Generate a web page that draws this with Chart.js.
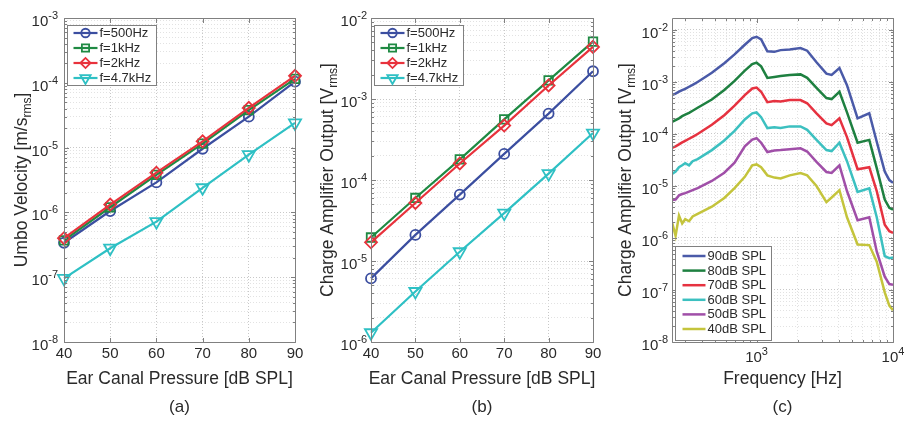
<!DOCTYPE html>
<html>
<head>
<meta charset="utf-8">
<script src="https://cdn.jsdelivr.net/npm/chart.js"></script>
<style>
  html, body { margin: 0; padding: 0; background: #fff; }
  #wrap { position: relative; width: 908px; height: 426px; overflow: hidden; }
  .panel { position: absolute; top: 0; height: 426px; }
</style>
</head>
<body>
<div id="wrap">
  <div class="panel" style="left:0;width:305px"><canvas id="chart_a"></canvas></div>
  <div class="panel" style="left:305px;width:300px"><canvas id="chart_b"></canvas></div>
  <div class="panel" style="left:605px;width:303px"><canvas id="chart_c"></canvas></div>
</div>
<script>
// ---- (a) / (b): level sweep at four tones ----
var spl = [40, 50, 60, 70, 80, 90];
var toneLabels = ['f=500Hz', 'f=1kHz', 'f=2kHz', 'f=4.7kHz'];

var umbo_500 = [3.4e-7, 1.05e-6, 2.9e-6, 9.6e-6, 3.0e-5, 1.04e-4];
var umbo_1k = [3.7e-7, 1.2e-6, 3.8e-6, 1.15e-5, 3.8e-5, 1.15e-4];
var umbo_2k = [4.0e-7, 1.32e-6, 4.1e-6, 1.25e-5, 4.1e-5, 1.28e-4];
var umbo_4k7 = [9.6e-8, 2.8e-7, 7.2e-7, 2.4e-6, 7.8e-6, 2.4e-5];

var amp_500 = [6.1e-6, 2.1e-5, 6.6e-5, 2.1e-4, 6.6e-4, 2.2e-3];
var amp_1k = [1.95e-5, 6.0e-5, 1.8e-4, 5.6e-4, 1.7e-3, 5.1e-3];
var amp_2k = [1.7e-5, 5.2e-5, 1.6e-4, 4.7e-4, 1.47e-3, 4.4e-3];
var amp_4k7 = [1.3e-6, 4.2e-6, 1.3e-5, 3.9e-5, 1.2e-4, 3.8e-4];

// ---- (c): frequency response at six levels ----
var freqHz = [240, 255, 270, 285, 300, 320, 340, 370, 470, 580, 690, 820, 930, 1000, 1080, 1200,
  1350, 1500, 1750, 2100, 2350, 2750, 3250, 3550, 4050, 4600, 5500, 6700, 7600, 8700, 9400, 10000];
var levelLabels = ['90dB SPL', '80dB SPL', '70dB SPL', '60dB SPL', '50dB SPL', '40dB SPL'];

var out_90 = [5.6e-4, 6.0e-4, 6.5e-4, 7.0e-4, 7.4e-4, 8.1e-4, 8.8e-4, 1.0e-3, 1.5e-3, 2.3e-3, 3.4e-3, 5.2e-3, 7.0e-3, 7.4e-3, 6.6e-3, 3.9e-3,
  3.8e-3, 4.1e-3, 4.2e-3, 4.5e-3, 4.0e-3, 2.4e-3, 1.45e-3, 1.37e-3, 1.86e-3, 8.7e-4, 2.0e-4, 2.5e-4, 7.1e-5, 1.9e-5, 1.3e-5, 1.15e-5];
var out_80 = [1.7e-4, 1.85e-4, 2.0e-4, 2.2e-4, 2.35e-4, 2.55e-4, 2.8e-4, 3.2e-4, 4.6e-4, 7.0e-4, 1.05e-3, 1.65e-3, 2.2e-3, 2.35e-3, 2.0e-3, 1.2e-3,
  1.25e-3, 1.3e-3, 1.36e-3, 1.4e-3, 1.2e-3, 7.7e-4, 4.9e-4, 4.7e-4, 6.5e-4, 2.6e-4, 6.8e-5, 7.7e-5, 2.2e-5, 5.5e-6, 3.8e-6, 3.5e-6];
var out_70 = [5.4e-5, 5.8e-5, 6.3e-5, 6.9e-5, 7.4e-5, 8.1e-5, 8.8e-5, 1.0e-4, 1.5e-4, 2.3e-4, 3.5e-4, 5.6e-4, 7.5e-4, 7.8e-4, 6.5e-4, 4.1e-4,
  4.3e-4, 4.2e-4, 4.5e-4, 4.5e-4, 3.9e-4, 2.5e-4, 1.6e-4, 1.48e-4, 2.0e-4, 8.7e-5, 2.1e-5, 2.3e-5, 8.0e-6, 1.8e-6, 1.35e-6, 1.25e-6];
var out_60 = [1.7e-5, 1.9e-5, 2.3e-5, 2.5e-5, 2.75e-5, 2.5e-5, 3.0e-5, 3.3e-5, 4.9e-5, 7.5e-5, 1.15e-4, 1.9e-4, 2.5e-4, 2.6e-4, 2.1e-4, 1.3e-4,
  1.35e-4, 1.3e-4, 1.4e-4, 1.4e-4, 1.2e-4, 7.7e-5, 4.9e-5, 4.7e-5, 6.8e-5, 3.0e-5, 7.7e-6, 9.0e-6, 2.5e-6, 4.5e-7, 4.1e-7, 4.2e-7];
var out_50 = [5.4e-6, 5.5e-6, 6.6e-6, 7.0e-6, 7.3e-6, 7.8e-6, 8.3e-6, 9.1e-6, 1.25e-5, 1.8e-5, 2.8e-5, 5.8e-5, 7.8e-5, 8.3e-5, 6.8e-5, 4.5e-5,
  4.8e-5, 4.9e-5, 5.1e-5, 5.3e-5, 4.6e-5, 2.9e-5, 1.86e-5, 1.78e-5, 2.5e-5, 8.0e-6, 2.2e-6, 2.5e-6, 5.5e-7, 1.8e-7, 1.3e-7, 1.26e-7];
var out_40 = [2.0e-6, 1.1e-6, 2.7e-6, 1.9e-6, 2.3e-6, 2.1e-6, 2.6e-6, 2.9e-6, 4.0e-6, 5.9e-6, 9.1e-6, 1.5e-5, 2.5e-5, 2.6e-5, 2.3e-5, 1.6e-5,
  1.45e-5, 1.4e-5, 1.6e-5, 1.78e-5, 1.6e-5, 1.0e-5, 4.9e-6, 6.0e-6, 8.3e-6, 2.5e-6, 7.5e-7, 7.3e-7, 3.5e-7, 9.0e-8, 5.0e-8, 4.1e-8];

var FONT = '"Liberation Sans", Arial, sans-serif';
var TEXT = '#2a2a2a';
var AXIS = '#808080';

var toneStyle = [
  { color: '#3b4ea0', shape: 'circle', r: 5, rot: 0 },
  { color: '#1f8a43', shape: 'rect', r: 6, rot: 0 },
  { color: '#e8323c', shape: 'rectRot', r: 6, rot: 0 },
  { color: '#2ec0c4', shape: 'triangle', r: 7, rot: 180 }
];
var levelColors = ['#4a5aa8', '#1e8040', '#e63240', '#3cc0c0', '#a04fa8', '#c4c43c'];

var drawPt = (Chart.helpers && Chart.helpers.drawPoint) || function (ctx, o, x, y) {
  ctx.beginPath(); ctx.arc(x, y, o.radius, 0, 2 * Math.PI); ctx.stroke();
};

function pts(xs, ys) {
  return xs.map(function (x, i) { return { x: x, y: ys[i] }; });
}

function isDecade(v) {
  var l = Math.log10(v);
  return Math.abs(l - Math.round(l)) < 1e-6;
}

function logTicks(min, max) {
  var out = [];
  for (var e = Math.floor(Math.log10(min)); e <= Math.ceil(Math.log10(max)); e++) {
    for (var m = 1; m <= 9; m++) {
      var v = m * Math.pow(10, e);
      if (v >= min * 0.9999 && v <= max * 1.0001) out.push({ value: v, major: m === 1 });
    }
  }
  return out;
}

function gridColor(ctx) {
  if (ctx.scale.type === 'logarithmic' && ctx.tick && !isDecade(ctx.tick.value)) return '#e2e2e2';
  return '#c8c8c8';
}

function powLabel(ctx, exp, x, y, align, size) {
  var base = size + 'px ' + FONT, sup = Math.round(size * 0.7) + 'px ' + FONT;
  var s = String(exp);
  ctx.font = base; var w1 = ctx.measureText('10').width;
  ctx.font = sup; var w2 = ctx.measureText(s).width;
  var x0 = align === 'right' ? x - w1 - w2 : x - (w1 + w2) / 2;
  ctx.textAlign = 'left'; ctx.textBaseline = 'alphabetic';
  ctx.font = base; ctx.fillText('10', x0, y);
  ctx.font = sup; ctx.fillText(s, x0 + w1, y - size * 0.47);
}

function drawYTitle(ctx, parts, x, cy) {
  var big = '17.5px ' + FONT, small = '12px ' + FONT;
  ctx.save();
  ctx.translate(x, cy);
  ctx.rotate(-Math.PI / 2);
  ctx.textAlign = 'left'; ctx.textBaseline = 'alphabetic';
  ctx.font = big;
  var w0 = ctx.measureText(parts[0]).width, w2 = ctx.measureText(parts[2]).width;
  ctx.font = small;
  var w1 = ctx.measureText(parts[1]).width;
  var s = -(w0 + w1 + w2) / 2;
  ctx.font = big; ctx.fillText(parts[0], s, 0);
  ctx.font = small; ctx.fillText(parts[1], s + w0, 4);
  ctx.font = big; ctx.fillText(parts[2], s + w0 + w1, 0);
  ctx.restore();
}

// box, inward ticks, tick labels and titles in the MATLAB look
var matlabFrame = {
  id: 'matlabFrame',
  afterDraw: function (chart, args, o) {
    var ctx = chart.ctx, a = chart.chartArea, xs = chart.scales.x, ys = chart.scales.y;
    var L = Math.round(a.left) + 0.5, R = Math.round(a.right) + 0.5;
    var T = Math.round(a.top) + 0.5, B = Math.round(a.bottom) + 0.5;
    ctx.save();
    ctx.strokeStyle = AXIS;
    ctx.lineWidth = 1;
    ctx.beginPath();
    ys.ticks.forEach(function (t) {
      var y = Math.round(ys.getPixelForValue(t.value)) + 0.5;
      var n = (ys.type !== 'logarithmic' || isDecade(t.value)) ? 4.5 : 2.5;
      ctx.moveTo(L, y); ctx.lineTo(L + n, y);
      ctx.moveTo(R, y); ctx.lineTo(R - n, y);
    });
    xs.ticks.forEach(function (t) {
      var x = Math.round(xs.getPixelForValue(t.value)) + 0.5;
      var n = (xs.type !== 'logarithmic' || isDecade(t.value)) ? 4.5 : 2.5;
      ctx.moveTo(x, B); ctx.lineTo(x, B - n);
      ctx.moveTo(x, T); ctx.lineTo(x, T + n);
    });
    ctx.rect(L, T, R - L, B - T);
    ctx.stroke();

    ctx.fillStyle = TEXT;
    ys.ticks.forEach(function (t) {
      if (!isDecade(t.value)) return;
      powLabel(ctx, Math.round(Math.log10(t.value)), a.left - o.yGap, ys.getPixelForValue(t.value) + 8, 'right', 15);
    });
    xs.ticks.forEach(function (t) {
      var x = xs.getPixelForValue(t.value);
      if (xs.type === 'logarithmic') {
        if (isDecade(t.value)) powLabel(ctx, Math.round(Math.log10(t.value)), x, a.bottom + 20, 'center', 15);
      } else {
        ctx.font = '15px ' + FONT; ctx.textAlign = 'center'; ctx.textBaseline = 'alphabetic';
        ctx.fillText(String(t.value), x, a.bottom + 16);
      }
    });
    var cx = (a.left + a.right) / 2;
    ctx.textAlign = 'center'; ctx.textBaseline = 'alphabetic';
    ctx.font = '17.5px ' + FONT;
    ctx.fillText(o.xTitle, cx, a.bottom + 42);
    ctx.font = '17px ' + FONT;
    ctx.fillText(o.tag, cx, a.bottom + 70);
    drawYTitle(ctx, o.yTitle, o.yTitleX, (a.top + a.bottom) / 2);
    ctx.restore();
  }
};

// legend box inside the axes, line sample with marker in the middle
var boxLegend = {
  id: 'boxLegend',
  afterDraw: function (chart, args, o) {
    var ctx = chart.ctx, a = chart.chartArea, sets = chart.data.datasets;
    var left = Math.round(a.left + o.dx) + 0.5;
    var top = Math.round(o.fromBottom ? a.bottom - o.dy - o.h : a.top + o.dy) + 0.5;
    ctx.save();
    ctx.fillStyle = '#ffffff';
    ctx.fillRect(left, top, o.w, o.h);
    ctx.strokeStyle = AXIS; ctx.lineWidth = 1;
    ctx.strokeRect(left, top, o.w, o.h);
    ctx.font = '13px ' + FONT; ctx.textBaseline = 'middle'; ctx.textAlign = 'left';
    sets.forEach(function (ds, i) {
      var y = top + o.first + i * o.step;
      ctx.strokeStyle = ds.borderColor; ctx.lineWidth = ds.borderWidth;
      ctx.beginPath(); ctx.moveTo(left + o.x0, y); ctx.lineTo(left + o.x1, y); ctx.stroke();
      if (ds.pointRadius > 0) {
        ctx.lineWidth = ds.pointBorderWidth;
        ctx.fillStyle = 'rgba(255,255,255,0)';
        drawPt(ctx, { pointStyle: ds.pointStyle, radius: ds.pointRadius * 0.85, rotation: ds.pointRotation, borderWidth: ds.pointBorderWidth },
          left + (o.x0 + o.x1) / 2, y);
      }
      ctx.fillStyle = TEXT;
      ctx.fillText(ds.label, left + o.tx, y + 0.5);
    });
    ctx.restore();
  }
};

function logAxis(min, max) {
  return {
    type: 'logarithmic', min: min, max: max,
    afterBuildTicks: function (s) { s.ticks = logTicks(min, max); },
    ticks: { display: false },
    grid: { drawTicks: false, color: gridColor, lineWidth: 1 },
    border: { display: false, dash: [1, 2] }
  };
}

function toneSets(values) {
  return values.map(function (v, i) {
    var s = toneStyle[i];
    return {
      label: toneLabels[i], data: pts(spl, v), order: values.length - i,
      borderColor: s.color, borderWidth: 2.2, tension: 0, clip: false,
      pointStyle: s.shape, pointRadius: s.r, pointRotation: s.rot, pointBorderWidth: 1.8,
      pointBorderColor: s.color, pointBackgroundColor: 'rgba(255,255,255,0)'
    };
  });
}

function splConfig(sets, yMin, yMax, pad, frame) {
  var x = {
    type: 'linear', min: 40, max: 90,
    ticks: { display: false, stepSize: 10 },
    grid: { drawTicks: false, color: gridColor, lineWidth: 1 },
    border: { display: false, dash: [1, 2] },
    afterFit: function (s) { s.height = 0; }
  };
  var y = logAxis(yMin, yMax);
  y.afterFit = function (s) { s.width = 0; };
  return {
    type: 'line',
    data: { datasets: sets },
    options: {
      responsive: true, maintainAspectRatio: false, animation: false, devicePixelRatio: 1, events: [],
      layout: { padding: pad },
      plugins: {
        legend: { display: false }, tooltip: { enabled: false },
        matlabFrame: frame,
        boxLegend: { dx: 3, dy: 7, w: 89, h: 60, first: 7.5, step: 15, x0: 6, x1: 30, tx: 32 }
      },
      scales: { x: x, y: y }
    },
    plugins: [matlabFrame, boxLegend]
  };
}

var chart_a = new Chart(document.getElementById('chart_a'), splConfig(
  toneSets([umbo_500, umbo_1k, umbo_2k, umbo_4k7]), 1e-8, 1e-3,
  { left: 64, right: 10, top: 18, bottom: 84 },
  { yGap: 6, yTitleX: 27, yTitle: ['Umbo Velocity [m/s', 'rms', ']'], xTitle: 'Ear Canal Pressure [dB SPL]', tag: '(a)' }
));

var chart_b = new Chart(document.getElementById('chart_b'), splConfig(
  toneSets([amp_500, amp_1k, amp_2k, amp_4k7]), 1e-6, 1e-2,
  { left: 66, right: 12, top: 18, bottom: 84 },
  { yGap: 4, yTitleX: 28, yTitle: ['Charge Amplifier Output [V', 'rms', ']'], xTitle: 'Ear Canal Pressure [dB SPL]', tag: '(b)' }
));

var levelSets = [out_90, out_80, out_70, out_60, out_50, out_40].map(function (v, i) {
  return {
    label: levelLabels[i], data: pts(freqHz, v), order: 6 - i,
    borderColor: levelColors[i], borderWidth: 2.5, tension: 0, pointRadius: 0
  };
});

var xFreq = logAxis(240, 10000);
xFreq.afterFit = function (s) { s.height = 0; };
var yOut = logAxis(1e-8, 1.7e-2);
yOut.afterFit = function (s) { s.width = 0; };

var chart_c = new Chart(document.getElementById('chart_c'), {
  type: 'line',
  data: { datasets: levelSets },
  options: {
    responsive: true, maintainAspectRatio: false, animation: false, devicePixelRatio: 1, events: [],
    layout: { padding: { left: 67, right: 15, top: 18, bottom: 84 } },
    plugins: {
      legend: { display: false }, tooltip: { enabled: false },
      matlabFrame: { yGap: 4, yTitleX: 26, yTitle: ['Charge Amplifier Output [V', 'rms', ']'], xTitle: 'Frequency [Hz]', tag: '(c)' },
      boxLegend: { fromBottom: true, dx: 3, dy: 2, w: 96, h: 94, first: 9.5, step: 14.6, x0: 7, x1: 30, tx: 32 }
    },
    scales: { x: xFreq, y: yOut }
  },
  plugins: [matlabFrame, boxLegend]
});
</script>
</body>
</html>
